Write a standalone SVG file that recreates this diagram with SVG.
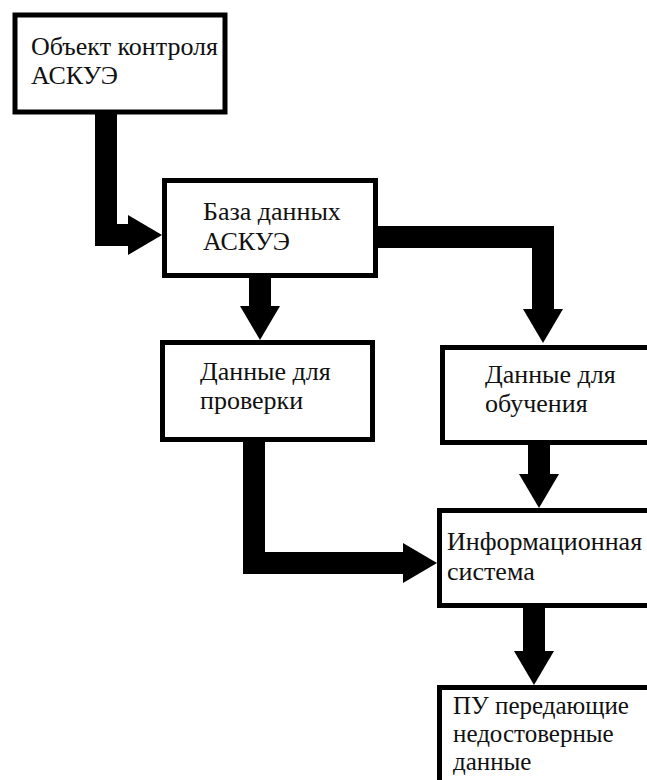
<svg xmlns="http://www.w3.org/2000/svg" width="647" height="780" viewBox="0 0 647 780">
<style>
.box{fill:#fff;stroke:#000;stroke-width:5}
.conn{fill:none;stroke:#000;stroke-width:22;stroke-linejoin:miter}
</style>
<defs>
<marker id="head" markerUnits="userSpaceOnUse" markerWidth="34" markerHeight="40" viewBox="0 0 34 40" refX="0" refY="20" orient="auto">
<path d="M0,0 L34,20 L0,40 Z" fill="#000"/>
</marker>
</defs>
<rect width="647" height="780" fill="#fff"/>
<g id="connectors">
<path class="conn" d="M106,112 V235 H128" marker-end="url(#head)"/>
<path class="conn" d="M376,237 H543 V309" marker-end="url(#head)"/>
<path class="conn" d="M260,278 V306" marker-end="url(#head)"/>
<path class="conn" d="M254,440 V563 H403" marker-end="url(#head)"/>
<path class="conn" d="M539,445 V474" marker-end="url(#head)"/>
<path class="conn" d="M534,608 V651" marker-end="url(#head)"/>
</g>
<g font-family="Liberation Serif, serif" font-size="26" fill="#111">
<g id="n1">
<rect class="box" x="15" y="15" width="210" height="97"/>
<text x="31" y="55">Объект контроля</text>
<text x="31" y="84">АСКУЭ</text>
</g>
<g id="n2">
<rect class="box" x="164.5" y="180.5" width="211" height="95"/>
<text x="203" y="220">База данных</text>
<text x="203" y="250">АСКУЭ</text>
</g>
<g id="n3">
<rect class="box" x="162.5" y="342.5" width="210" height="97"/>
<text x="200" y="380">Данные для</text>
<text x="200" y="409">проверки</text>
</g>
<g id="n4">
<rect class="box" x="442.5" y="347.5" width="220" height="95"/>
<text x="485" y="383">Данные для</text>
<text x="485" y="412">обучения</text>
</g>
<g id="n5">
<rect class="box" x="439.5" y="510.5" width="220" height="95"/>
<text x="447" y="550">Информационная</text>
<text x="447" y="580">система</text>
</g>
<g id="n6" font-size="25">
<rect class="box" x="439.5" y="687.5" width="220" height="110"/>
<text x="453" y="714">ПУ передающие</text>
<text x="453" y="742">недостоверные</text>
<text x="453" y="770">данные</text>
</g>
</g>
</svg>
